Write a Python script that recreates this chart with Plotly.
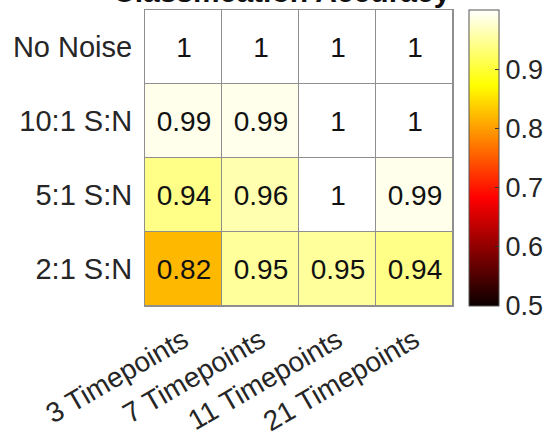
import plotly.graph_objects as go

# Classification accuracy for each noise level (rows) and sampling density (columns)
timepoint_labels = ["3 Timepoints", "7 Timepoints", "11 Timepoints", "21 Timepoints"]
noise_labels = ["No Noise", "10:1 S:N", "5:1 S:N", "2:1 S:N"]
acc_no_noise = [1, 1, 1, 1]
acc_10_to_1 = [0.99, 0.99, 1, 1]
acc_5_to_1 = [0.94, 0.96, 1, 0.99]
acc_2_to_1 = [0.82, 0.95, 0.95, 0.94]
colorbar_ticks = [0.5, 0.6, 0.7, 0.8, 0.9]

z = [acc_no_noise, acc_10_to_1, acc_5_to_1, acc_2_to_1]

# "hot" colormap: black -> red -> yellow -> white
hot = [
    [0.0, "rgb(11,0,0)"],
    [23 / 63, "rgb(255,0,0)"],
    [47 / 63, "rgb(255,255,0)"],
    [1.0, "rgb(255,255,255)"],
]

FONT = "Liberation Sans, Arial, Helvetica, sans-serif"
GRID = "#8f8f8f"
TXT = "#262626"

W, H = 553, 434
ml, mr, mt, mb = 145, 100, 10, 128
plot_w = W - ml - mr

fig = go.Figure(
    go.Heatmap(
        z=z,
        x=timepoint_labels,
        y=noise_labels,
        colorscale=hot,
        zmin=0.5,
        zmax=1.0,
        xgap=1,
        ygap=1,
        texttemplate="%{z}",
        textfont=dict(family=FONT, size=28, color="#111111"),
        colorbar=dict(
            thickness=30,
            thicknessmode="pixels",
            len=1,
            lenmode="fraction",
            x=1 + (469 - 453) / plot_w,
            xanchor="left",
            y=0.5,
            yanchor="middle",
            xpad=0,
            ypad=0,
            outlinewidth=1,
            outlinecolor="#555555",
            tickvals=colorbar_ticks,
            ticktext=[f"{v:.1f}" for v in colorbar_ticks],
            ticks="inside",
            ticklen=4,
            tickcolor="#333333",
            tickfont=dict(family=FONT, size=27, color=TXT),
        ),
    )
)

fig.update_xaxes(
    tickangle=-30,
    tickfont=dict(family=FONT, size=28, color=TXT),
    showline=True,
    mirror=True,
    linecolor=GRID,
    linewidth=1,
    ticks="",
    ticklabelstandoff=6,
    showgrid=False,
    zeroline=False,
)
fig.update_yaxes(
    autorange="reversed",
    tickfont=dict(family=FONT, size=29, color=TXT),
    showline=True,
    mirror=True,
    linecolor=GRID,
    linewidth=1,
    ticks="",
    ticklabelstandoff=6,
    showgrid=False,
    zeroline=False,
)

fig.add_annotation(
    text="<b>Classification Accuracy</b>",
    xref="paper",
    yref="paper",
    x=(282 - ml) / plot_w,
    y=1.0,
    xanchor="center",
    yanchor="bottom",
    showarrow=False,
    font=dict(family=FONT, size=30, color="#111111"),
)

fig.update_layout(
    width=W,
    height=H,
    margin=dict(l=ml, r=mr, t=mt, b=mb, autoexpand=False),
    paper_bgcolor="white",
    plot_bgcolor=GRID,
    showlegend=False,
)

fig.write_html("out.html")
